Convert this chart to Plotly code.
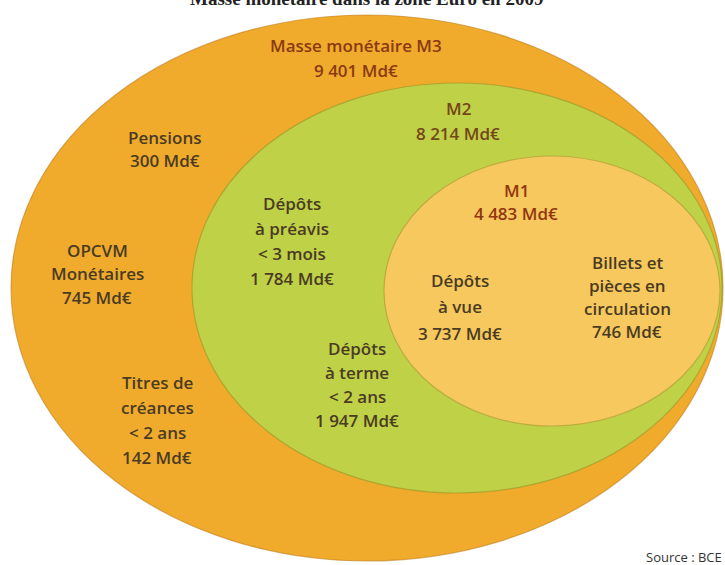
import plotly.graph_objects as go

# ---------------- data ----------------
title_text = "Masse monétaire dans la zone Euro en 2009"
source_text = "Source : BCE"
unit = "Md€"

aggregate_names = [["Masse monétaire M3"], ["M2"], ["M1"]]
aggregate_values = [9401, 8214, 4483]

component_names = [
    ["Pensions"],
    ["OPCVM", "Monétaires"],
    ["Titres de", "créances", "< 2 ans"],
    ["Dépôts", "à préavis", "< 3 mois"],
    ["Dépôts", "à terme", "< 2 ans"],
    ["Dépôts", "à vue"],
    ["Billets et", "pièces en", "circulation"],
]
component_values = [300, 745, 142, 1784, 1947, 3737, 746]

# ---------------- layout geometry (pixel space) ----------------
W, H = 725, 565
# ellipses: centre x, centre y, radius x, radius y
ellipse_geom = [(367, 288, 356, 273), (457, 288, 265, 205), (552, 291, 168, 135)]
ellipse_fill = ["#F0AB2D", "#BFD147", "#F6C85E"]
ellipse_line = ["rgba(190,120,20,0.55)", "rgba(150,150,40,0.6)", "rgba(170,150,50,0.6)"]

# label anchors: x centre, y of first line, line spacing
aggregate_pos = [(356, 45, 25), (458, 108, 25), (516, 190, 23)]
aggregate_color = ["#8A3A12", "#74461A", "#93360F"]
component_pos = [(165, 137, 23), (97, 250, 23.5), (157, 382, 25), (292, 203, 25),
                 (357, 348, 24), (460, 280, 26.5), (627, 262, 23.3)]
component_color = "#4A3B22"

FONT = "Open Sans"
FS = 17


def fmt(v):
    return f"{v:,}".replace(",", " ") + " " + unit


fig = go.Figure()
# invisible trace to establish axes
fig.add_trace(go.Scatter(x=[0, W], y=[0, H], mode="markers",
                         marker=dict(opacity=0), hoverinfo="skip", showlegend=False))

shapes = []
for (cx, cy, rx, ry), fc, lc in zip(ellipse_geom, ellipse_fill, ellipse_line):
    shapes.append(dict(type="circle", xref="x", yref="y",
                       x0=cx - rx, x1=cx + rx, y0=cy - ry, y1=cy + ry,
                       fillcolor=fc, line=dict(color=lc, width=1.2), layer="below"))

annotations = []


def add_lines(lines, pos, color):
    x, y0, dy = pos
    for i, t in enumerate(lines):
        annotations.append(dict(x=x, y=y0 + i * dy, xref="x", yref="y", text=t,
                                showarrow=False, xanchor="center", yanchor="middle",
                                font=dict(family=FONT, size=FS, color=color, weight=600)))


for names, v, pos, col in zip(aggregate_names, aggregate_values, aggregate_pos, aggregate_color):
    add_lines(names + [fmt(v)], pos, col)

for names, v, pos in zip(component_names, component_values, component_pos):
    add_lines(names + [fmt(v)], pos, component_color)

# title (cut off at the top of the picture, as in the scan)
annotations.append(dict(x=0.506, y=1.0 + 2 / H, xref="paper", yref="paper", text="<b>" + title_text + "</b>",
                        showarrow=False, xanchor="center", yanchor="middle",
                        font=dict(family="Liberation Serif", size=19, color="#222222")))
# source (bottom right)
annotations.append(dict(x=0.998, y=1 - 557 / H, xref="paper", yref="paper", text=source_text,
                        showarrow=False, xanchor="right", yanchor="middle",
                        font=dict(family=FONT, size=13, color="#333333")))

fig.update_layout(
    width=W, height=H,
    margin=dict(l=0, r=0, t=0, b=0, pad=0),
    paper_bgcolor="white", plot_bgcolor="white",
    xaxis=dict(range=[0, W], visible=False, fixedrange=True),
    yaxis=dict(range=[H, 0], visible=False, fixedrange=True),
    shapes=shapes, annotations=annotations, showlegend=False,
)

fig.write_html("out.html", config={"displayModeBar": False},
               post_script="document.body.style.margin='0';document.body.style.overflow='hidden';")
